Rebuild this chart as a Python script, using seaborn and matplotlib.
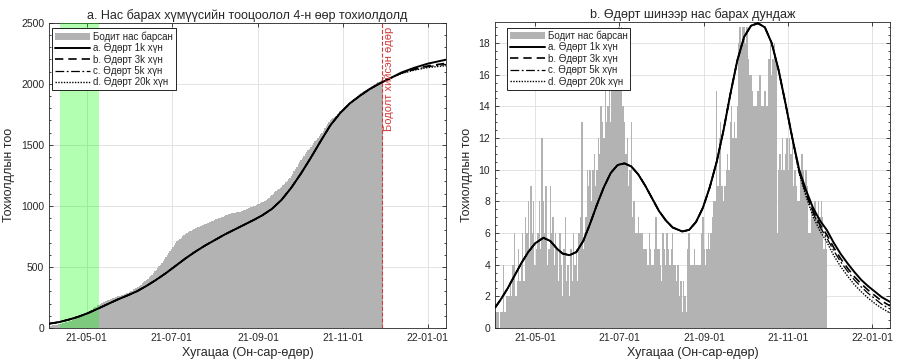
import numpy as np
import pandas as pd
import matplotlib
matplotlib.use("Agg")
import matplotlib.pyplot as plt
import matplotlib.dates as mdates
from matplotlib.patches import Patch
from matplotlib.lines import Line2D
from matplotlib.ticker import MultipleLocator
import seaborn as sns

# ---- data -------------------------------------------------------------
first_day = '2021-04-01'
day_zero = pd.Timestamp('2021-04-01')

# daily reported deaths, one value per day from first_day
daily_deaths = [
    1, 1, 1, 1, 0, 1, 1, 4, 1, 2,
    2, 2, 3, 2, 4, 6, 2, 3, 5, 3,
    4, 6, 3, 7, 6, 8, 5, 9, 6, 8,
    4, 5, 6, 8, 5, 12, 8, 6, 9, 4,
    5, 9, 6, 7, 4, 6, 5, 3, 6, 4,
    2, 5, 7, 3, 4, 2, 5, 3, 6, 4,
    5, 3, 6, 7, 13, 5, 6, 7, 10, 9,
    10, 8, 10, 11, 9, 10, 12, 11, 14, 13,
    12, 15, 13, 14, 15, 13, 16, 17, 18, 15,
    17, 19, 15, 19, 14, 13, 11, 12, 9, 10,
    13, 7, 8, 6, 6, 7, 6, 6, 6, 5,
    5, 5, 4, 6, 5, 4, 4, 5, 7, 5,
    5, 4, 3, 6, 5, 4, 6, 5, 4, 5,
    6, 4, 4, 3, 4, 2, 3, 1, 3, 2,
    1, 5, 6, 4, 4, 4, 5, 4, 4, 4,
    4, 6, 7, 5, 4, 5, 6, 5, 6, 7,
    8, 8, 15, 9, 12, 13, 9, 8, 9, 10,
    11, 10, 13, 14, 12, 13, 12, 14, 18, 19,
    18, 19, 19, 18, 19, 17, 16, 16, 15, 14,
    14, 14, 15, 16, 16, 14, 14, 15, 14, 14,
    17, 18, 16, 17, 18, 17, 6, 10, 11, 10,
    12, 10, 11, 12, 10, 12, 11, 12, 9, 10,
    9, 8, 8, 10, 11, 10, 9, 10, 9, 6,
    6, 8, 7, 8, 8, 7, 8, 7, 8, 7,
    5, 6, 5,
]
deaths_before = 15  # cumulative count before first_day

# model: daily deaths (panel b), days counted from day_zero
daily_model_days = [1, 5, 10, 15, 20, 25, 30, 36, 41, 46, 50, 55, 60, 65, 70,
                    75, 80, 85, 90, 95, 100, 105, 110, 115, 120, 125, 130, 137,
                    142, 147, 152, 157, 162, 167, 172, 177, 182, 187, 192, 197,
                    202, 207, 212, 217]
daily_model = [1.3, 1.8, 2.5, 3.3, 4.1, 4.8, 5.35, 5.7, 5.5, 5.0, 4.7, 4.6, 4.8,
               5.5, 6.6, 7.8, 8.9, 9.8, 10.3, 10.4, 10.2, 9.7, 9.0, 8.2, 7.4,
               6.8, 6.35, 6.1, 6.2, 6.7, 7.6, 8.9, 10.5, 12.5, 14.8, 16.9, 18.4,
               19.1, 19.25, 19.0, 18.0, 16.3, 14.2, 12.0]
daily_tail_days = [222, 227, 232, 237, 242, 247, 252, 257, 262, 267, 272, 277, 282, 288]
daily_tail_1k = [10.0, 8.7, 7.6, 6.8, 6.2, 5.4, 4.7, 4.1, 3.55, 3.05, 2.65, 2.3, 1.95, 1.65]
daily_tail_3k = [9.9, 8.55, 7.4, 6.55, 5.9, 5.1, 4.4, 3.8, 3.25, 2.8, 2.4, 2.05, 1.7, 1.4]
daily_tail_5k = [9.85, 8.45, 7.25, 6.4, 5.7, 4.9, 4.2, 3.6, 3.05, 2.6, 2.2, 1.85, 1.5, 1.2]
daily_tail_20k = [9.75, 8.3, 7.05, 6.15, 5.45, 4.6, 3.9, 3.3, 2.75, 2.3, 1.9, 1.55, 1.25, 0.95]

# model: cumulative deaths (panel a)
cum_model_days = [3, 10, 17, 24, 31, 38, 45, 52, 59, 66, 73, 80, 87, 94, 101,
                  108, 115, 122, 129, 136, 143, 150, 156, 163, 170, 177, 184,
                  191, 198, 205, 212, 219, 226, 233, 240, 247]
cum_model = [35, 48, 68, 92, 122, 158, 195, 232, 265, 300, 345, 395, 450, 510,
             570, 625, 675, 720, 765, 805, 845, 885, 922, 975, 1050, 1150, 1267,
             1395, 1530, 1660, 1760, 1840, 1900, 1955, 2000, 2040]
cum_tail_days = [256, 265, 275, 288]
cum_tail_1k = [2092, 2130, 2165, 2197]
cum_tail_3k = [2088, 2120, 2146, 2168]
cum_tail_5k = [2086, 2115, 2140, 2158]
cum_tail_20k = [2084, 2111, 2133, 2148]

scenarios = ['a. Өдөрт 1k хүн', 'b. Өдөрт 3k хүн', 'c. Өдөрт 5k хүн', 'd. Өдөрт 20k хүн']
daily_tails = [daily_tail_1k, daily_tail_3k, daily_tail_5k, daily_tail_20k]
cum_tails = [cum_tail_1k, cum_tail_3k, cum_tail_5k, cum_tail_20k]

lockdown = ('2021-04-12', '2021-05-10')
calc_day = '2021-11-29'
tick_dates = ['2021-05-01', '2021-07-01', '2021-09-01', '2021-11-01', '2022-01-01']

# ---- style -------------------------------------------------------------
sns.set_theme(style="ticks")
plt.rcParams['font.family'] = ['Liberation Sans', 'DejaVu Sans']
axis_col = '#262626'
bar_col = '#b3b3b3'
styles = [dict(ls='-', lw=1.4), dict(ls=(0, (5, 3)), lw=1.2),
          dict(ls=(0, (7, 2, 1.5, 2)), lw=0.9), dict(ls=(0, (1, 1)), lw=1.0)]

dates = pd.date_range(first_day, periods=len(daily_deaths), freq='D')
cumulative = deaths_before + np.cumsum(daily_deaths)


def to_dates(days):
    return day_zero + pd.to_timedelta(days, unit='D')


fig = plt.figure(figsize=(9.16, 3.61), dpi=100)
ax1 = fig.add_axes([0.0535, 0.0914, 0.4334, 0.8457])
ax2 = fig.add_axes([0.5404, 0.0914, 0.4312, 0.8476])

# panel a
ax1.bar(dates, cumulative, width=1.0, color=bar_col, linewidth=0, zorder=2)
ax1.axvspan(pd.Timestamp(lockdown[0]), pd.Timestamp(lockdown[1]),
            color=(0, 1, 0), alpha=0.3, lw=0, zorder=3)
for name, tail, st in zip(scenarios, cum_tails, styles):
    x = to_dates(cum_model_days + cum_tail_days)
    y = cum_model + tail
    sns.lineplot(x=x, y=y, ax=ax1, color='black', zorder=4, **st)
ax1.axvline(pd.Timestamp(calc_day), color='#d03a3a', ls='--', lw=0.8, zorder=5)
ax1.text(pd.Timestamp(calc_day) + pd.Timedelta(days=5), 2465, 'Бодолт хийсэн өдөр',
         rotation=90, ha='center', va='top', color='#d03a3a', fontsize=8, zorder=6)
ax1.set_ylim(0, 2500)
ax1.set_xlim(pd.Timestamp('2021-04-04'), pd.Timestamp('2022-01-14'))
ax1.yaxis.set_major_locator(MultipleLocator(500))
ax1.yaxis.set_minor_locator(MultipleLocator(100))
ax1.set_title('a. Нас барах хүмүүсийн тооцоолол 4-н өөр тохиолдолд',
              fontsize=9, pad=3, color=axis_col)

# panel b
ax2.bar(dates, daily_deaths, width=1.0, color=bar_col, linewidth=0, zorder=2)
for name, tail, st in zip(scenarios, daily_tails, styles):
    x = to_dates(daily_model_days + daily_tail_days)
    y = daily_model + tail
    sns.lineplot(x=x, y=y, ax=ax2, color='black', zorder=4, **st)
ax2.set_ylim(0, 19.33)
ax2.set_xlim(pd.Timestamp('2021-04-01 20:00'), pd.Timestamp('2022-01-14'))
ax2.yaxis.set_major_locator(MultipleLocator(2))
ax2.yaxis.set_minor_locator(MultipleLocator(0.5))
ax2.set_title('b. Өдөрт шинээр нас барах дундаж', fontsize=9, pad=3, color=axis_col)

handles = [Patch(facecolor=bar_col, edgecolor='none')] + \
    [Line2D([], [], color='black', **st) for st in styles]
labels = ['Бодит нас барсан'] + scenarios

for ax, leg_x in ((ax1, 0.008), (ax2, 0.03)):
    ax.set_xticks(pd.to_datetime(tick_dates))
    ax.xaxis.set_major_formatter(mdates.DateFormatter('%y-%m-%d'))
    ax.grid(True, which='major', color='#dedede', lw=0.6, zorder=0)
    ax.set_axisbelow(True)
    ax.tick_params(which='both', direction='in', top=True, right=True,
                   labelsize=7.5, colors=axis_col, width=0.6)
    ax.tick_params(which='major', length=3)
    ax.tick_params(which='minor', length=1.5)
    for sp in ax.spines.values():
        sp.set_color(axis_col)
        sp.set_linewidth(0.6)
    ax.set_xlabel('Хугацаа (Он-сар-өдөр)', fontsize=9, color=axis_col, labelpad=3)
    ax.set_ylabel('Тохиолдлын тоо', fontsize=9, color=axis_col, labelpad=4)
    leg = ax.legend(handles, labels, loc='upper left', bbox_to_anchor=(leg_x, 0.982),
                    borderaxespad=0, fontsize=7, handlelength=3.6, handletextpad=0.3,
                    labelspacing=0.15, borderpad=0.3, fancybox=False, framealpha=1,
                    edgecolor='black')
    leg.get_frame().set_linewidth(0.6)
    leg.set_zorder(10)

fig.savefig('out.png', dpi=100)
